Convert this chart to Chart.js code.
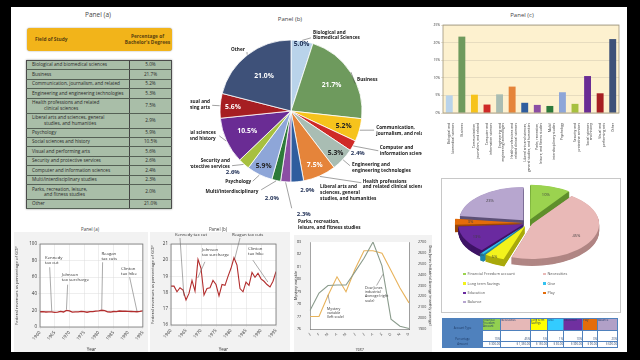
<!DOCTYPE html>
<html lang="en">
<head>
<meta charset="UTF-8">
<title>Bachelor's degrees and other charts</title>
<script src="https://cdn.jsdelivr.net/npm/chart.js@4"></script>
<style>
    body { margin: 0; width: 640px; height: 360px; background: #000; position: relative; overflow: hidden; font-family: "Open Sans", sans-serif; }
    #page { position: absolute; left: 11px; top: 7px; width: 616px; height: 345px; background: #fff; }
    canvas { position: absolute; }
    .title { position: absolute; color: #444; transform: translate(-50%, -50%); white-space: nowrap; line-height: 1; }
    #hdr { position: absolute; left: 27px; top: 28px; width: 145px; height: 23px; background: #f2b41a; border-radius: 3px; box-shadow: 0 0 1.5px rgba(0,0,0,.5); color: #5a4210; font-weight: 700; font-size: 4.8px; line-height: 5.6px; }
    #hdr .c1 { position: absolute; left: 8px; top: 9px; }
    #hdr .c2 { position: absolute; left: 96px; width: 49px; top: 6px; text-align: center; }
    #degTable { position: absolute; left: 26px; top: 60px; width: 146px; border-collapse: collapse; background: #a9bea8; border: 1px solid #4a4a4a; box-shadow: 0 0 2px rgba(0,0,0,.4); font-size: 4.7px; line-height: 5.4px; color: #2a2a2a; }
    #degTable td { border-bottom: 0.6px solid #556055; padding: 0; }
    #degTable td.f { width: 97px; padding-left: 5px; border-right: 0.8px solid #444; }
    #degTable td.v { text-align: center; }
    #degTable tr:last-child { height: 13px; }
    #degTable .ind { padding-left: 12px; }
    #jarBox { position: absolute; left: 441px; top: 178px; width: 178px; height: 133px; border: 0.5px solid #c8c8c8; }
    .leg { position: absolute; font-size: 3.8px; color: #555; line-height: 1; white-space: nowrap; }
    .leg i { display: inline-block; width: 2.5px; height: 2.5px; margin-right: 2px; }
    #jarTable { position: absolute; left: 442px; top: 318px; width: 175px; border-collapse: collapse; font-size: 2.8px; line-height: 3.1px; color: #1f3b66; table-layout: fixed; }
    #jarTable td { border: 0.5px solid #4f81bd; padding: 0; overflow: hidden; white-space: normal; }
    #jarTable td.k { background: #4f81bd; text-align: center; vertical-align: bottom; }
    #jarTable td.n { text-align: right; vertical-align: bottom; background: #fff; white-space: nowrap; }
</style>
</head>
<body>
<div id="page"></div>

<div class="title" style="left:98px;top:15px;font-size:6.5px">Panel (a)</div>
<div id="hdr"><span class="c1">Field of Study</span><span class="c2">Percentage of<br>Bachelor's Degrees</span></div>
<table id="degTable"><tbody></tbody></table>

<div class="title" style="left:290px;top:19px;font-size:6px">Panel (b)</div>
<canvas id="pieChart" width="232" height="227" style="left:190px;top:8px"></canvas>

<div class="title" style="left:522px;top:15px;font-size:6px">Panel (c)</div>
<canvas id="barChart" width="202" height="155" style="left:425px;top:20px"></canvas>

<div class="title" style="left:90px;top:229px;font-size:4.5px">Panel (a)</div>
<canvas id="revA" width="134" height="120" style="left:14px;top:232px;background:#f2f2f2"></canvas>
<div class="title" style="left:218px;top:229px;font-size:4.5px">Panel (b)</div>
<canvas id="revB" width="140" height="120" style="left:150px;top:232px;background:#f2f2f2"></canvas>

<canvas id="dowChart" width="138" height="117" style="left:294px;top:235px;background:#f2f2f2"></canvas>

<div id="jarBox"></div>
<canvas id="jarChart" width="175" height="92" style="left:443px;top:180px"></canvas>
<div id="jarLegend"></div>
<table id="jarTable"><colgroup></colgroup><tbody></tbody></table>

<script>
// ---------- data ----------
const tableFields = [
    ['Biological and biomedical sciences'],
    ['Business'],
    ['Communication, journalism, and related'],
    ['Engineering and engineering technologies'],
    ['Health professions and related', 'clinical sciences'],
    ['Liberal arts and sciences, general', 'studies, and humanities'],
    ['Psychology'],
    ['Social sciences and history'],
    ['Visual and performing arts'],
    ['Security and protective services'],
    ['Computer and information sciences'],
    ['Multi/interdisciplinary studies'],
    ['Parks, recreation, leisure,', 'and fitness studies'],
    ['Other']
];
const tablePct = [5.0, 21.7, 5.2, 5.3, 7.5, 2.9, 5.9, 10.5, 5.6, 2.6, 2.4, 2.3, 2.0, 21.0];

const pieFields = ['Biological and biomedical sciences', 'Business', 'Communication, journalism, and related',
    'Computer and information sciences', 'Engineering and engineering technologies',
    'Health professions and related clinical sciences', 'Liberal arts and sciences, general studies, and humanities',
    'Parks, recreation, leisure, and fitness studies', 'Multi/interdisciplinary studies', 'Psychology',
    'Security and protective services', 'Social sciences and history', 'Visual and performing arts', 'Other'];
const piePct = [5.0, 21.7, 5.2, 2.4, 5.3, 7.5, 2.9, 2.3, 2.0, 5.9, 2.6, 10.5, 5.6, 21.0];
const pieColors = ['#b9d3ea', '#6e9a5d', '#f6c31c', '#cf2a27', '#a9bdb3', '#e5843a', '#2f5d9e',
    '#8b4ea4', '#2d7a3a', '#8ea6d8', '#a7c03f', '#6a2c94', '#a61e22', '#3e5179'];
const pieNames = [
    ['Biological and', 'Biomedical Sciences'], ['Business'], ['Communication,', 'journalism, and related'],
    ['Computer and', 'information sciences'], ['Engineering and', 'engineering technologies'],
    ['Health professions', 'and related clinical sciences'], ['Liberal arts and', 'sciences, general', 'studies, and humanities'],
    ['Parks, recreation,', 'leisure, and fitness studies'], ['Multi/interdisciplinary'], ['Psychology'],
    ['Security and', 'protective services'], ['Social sciences', 'and history'], ['Visual and', 'performing arts'], ['Other']
];
const barLabels = [
    ['Biological and', 'biomedical sciences'], 'Business', ['Communication,', 'journalism, and related'],
    ['Computer and', 'information sciences'], ['Engineering and', 'engineering technologies'],
    ['Health professions and', 'related clinical sciences'], ['Liberal arts and sciences,', 'general studies, and humanities'],
    ['Parks, recreation,', 'leisure, and fitness studies'], ['Multi/', 'interdisciplinary studies'], 'Psychology',
    ['Security and', 'protective services'], ['Social sciences', 'and history'], ['Visual and', 'performing arts'], 'Other'
];

const years = [1960, 1961, 1962, 1963, 1964, 1965, 1966, 1967, 1968, 1969, 1970, 1971, 1972, 1973, 1974, 1975, 1976, 1977,
    1978, 1979, 1980, 1981, 1982, 1983, 1984, 1985, 1986, 1987, 1988, 1989, 1990, 1991, 1992, 1993, 1994, 1995];
const revenue = [18.4, 18.4, 18.05, 18.3, 18.15, 17.55, 17.95, 18.75, 18.1, 20.05, 19.5, 17.85, 18.25, 18.3, 18.75, 18.5,
    17.8, 18.5, 18.45, 19.0, 19.5, 20.15, 19.7, 18.25, 18.05, 18.65, 18.45, 19.25, 18.95, 19.2, 18.85, 18.7, 18.5, 18.35, 18.7, 19.3];

const months = ['J', 'F', 'M', 'A', 'M', 'J', 'J', 'A', 'S', 'O', 'N', 'D'];
const mystery = [77.0, 77.0, 78.7, 80.2, 79.0, 80.8, 82.3, 82.3, 82.1, 80.7, 79.3, 78.1];
const dowJones = [2070, 2230, 2300, 2305, 2305, 2425, 2550, 2700, 2480, 1990, 1925, 1905];

const jarAccounts = ['Financial Freedom account', 'Necessities', 'Long term Savings', 'Give', 'Education', 'Play', 'Balance'];
const jarHeads = ['Financial Freedom Account', 'Necessities', 'Long term Savings', 'Give', 'Education', 'Play', 'Balance'];
const jarPct = [10, 45, 5, 1, 13, 3, 23];
const jarAmount = ['300.00', '1,350.00', '150.00', '30.00', '390.00', '90.00', '690.00'];
const jarColors = ['#9bd34f', '#e9b9b7', '#f2f21c', '#33c2f0', '#6a2aa0', '#e46c0a', '#b7a6cf'];
const jarSides = ['#5f8f2c', '#b08684', '#a9a90c', '#1f86aa', '#3f1466', '#9c4706', '#5d5077'];
const jarHeadColors = ['#92d050', '#e6b8b7', '#ffff00', '#33ccff', '#7030a0', '#e46c0a', '#b1a0c7'];

// ---------- html tables ----------
const degBody = document.querySelector('#degTable tbody');
tableFields.forEach((f, i) => {
    const tr = document.createElement('tr');
    if (f.length > 1) tr.style.height = '15px'; else tr.style.height = '9.4px';
    const td1 = document.createElement('td');
    td1.className = 'f';
    td1.innerHTML = f[0] + (f[1] ? '<br><span class="ind">' + f[1] + '</span>' : '');
    const td2 = document.createElement('td');
    td2.className = 'v';
    td2.textContent = tablePct[i].toFixed(1) + '%';
    tr.appendChild(td1); tr.appendChild(td2);
    degBody.appendChild(tr);
});

const colWidths = [40, 18, 30, 17, 16, 19, 15, 20];
const cg = document.querySelector('#jarTable colgroup');
colWidths.forEach(w => {
    const c = document.createElement('col');
    c.style.width = w + 'px';
    cg.appendChild(c);
});
const jarBody = document.querySelector('#jarTable tbody');
function jarRow(first, cells, h, head) {
    const tr = document.createElement('tr');
    tr.style.height = h + 'px';
    const k = document.createElement('td');
    k.className = 'k'; k.textContent = first;
    tr.appendChild(k);
    cells.forEach((c, i) => {
        const td = document.createElement('td');
        if (head) { td.style.background = jarHeadColors[i]; td.style.verticalAlign = 'top'; td.style.textAlign = 'left'; }
        else td.className = 'n';
        td.textContent = c;
        tr.appendChild(td);
    });
    jarBody.appendChild(tr);
}
jarRow('Account Type', jarHeads, 12, true);
jarRow('Percentage', jarPct.map(v => v + '%'), 11, false);
jarRow('Amount', jarAmount.map(v => '$ ' + v), 5.5, false);

const legPos = [[468, 274], [548, 274], [468, 283.5], [548, 283.5], [468, 293], [548, 293], [468, 302]];
const legDiv = document.getElementById('jarLegend');
jarAccounts.forEach((a, i) => {
    const d = document.createElement('div');
    d.className = 'leg';
    d.style.left = (legPos[i][0] - 5) + 'px';
    d.style.top = (legPos[i][1] - 2) + 'px';
    d.innerHTML = '<i style="background:' + jarColors[i] + '"></i>' + a;
    legDiv.appendChild(d);
});

// ---------- chart.js setup ----------
Chart.defaults.font.family = '"Open Sans", sans-serif';
Chart.defaults.color = '#333';
Chart.defaults.animation = false;
Chart.defaults.responsive = false;
Chart.defaults.devicePixelRatio = 1;
Chart.defaults.plugins.legend.display = false;
Chart.defaults.plugins.tooltip.enabled = false;

// white / cream plot area and its frame
const areaBg = {
    id: 'areaBg',
    beforeDraw(chart, args, o) {
        if (!o.color) return;
        const a = chart.chartArea, ctx = chart.ctx;
        ctx.save();
        ctx.fillStyle = o.color;
        ctx.fillRect(a.left, a.top, a.width, a.height);
        ctx.restore();
    },
    afterDraw(chart, args, o) {
        if (!o.frame) return;
        const a = chart.chartArea, ctx = chart.ctx;
        ctx.save();
        ctx.strokeStyle = o.frame;
        ctx.lineWidth = 0.8;
        ctx.strokeRect(a.left, a.top, a.width, a.height);
        ctx.restore();
    }
};

// text notes with leader lines, placed in data units
const notes = {
    id: 'notes',
    afterDatasetsDraw(chart, args, o) {
        if (!o.items) return;
        const ctx = chart.ctx, xs = chart.scales.x, ys = chart.scales[o.axis || 'y'];
        ctx.save();
        ctx.font = o.size + 'px "Open Sans"';
        ctx.fillStyle = '#333';
        ctx.strokeStyle = '#555';
        ctx.lineWidth = 0.5;
        ctx.textAlign = 'left';
        ctx.textBaseline = 'middle';
        o.items.forEach(n => {
            const tx = xs.getPixelForValue(n.at[0]), ty = ys.getPixelForValue(n.at[1]);
            n.text.forEach((t, k) => ctx.fillText(t, tx, ty + k * o.lh));
            ctx.beginPath();
            ctx.moveTo(xs.getPixelForValue(n.from[0]), ys.getPixelForValue(n.from[1]));
            ctx.lineTo(xs.getPixelForValue(n.to[0]), ys.getPixelForValue(n.to[1]));
            ctx.stroke();
        });
        ctx.restore();
    }
};

// labels around the big pie (offsets in units of the radius)
const pieLayout = [
    {pr: .95, pc: '#1f2f55', n: [.31, -1.11], al: 'left', ld: [.28, -1.03]},
    {pr: .68, pc: '#fff', n: [.93, -.44], al: 'left', ld: [.90, -.39]},
    {pr: .77, pc: '#222', n: [1.20, .24], al: 'left', ld: [1.17, .27]},
    {pp: [.94, .59], pc: '#1f2f55', n: [1.25, .52], al: 'left', ld: [1.23, .56]},
    {pr: .86, pc: '#222', n: [.86, .76], al: 'left', ld: [.83, .77]},
    {pr: .83, pc: '#fff', n: [1.01, .99], al: 'left', ld: [.99, 1.01]},
    {pp: [.23, 1.11], pc: '#1f2f55', n: [.41, 1.07], al: 'left'},
    {pp: [.18, 1.45], pc: '#1f2f55', n: [.10, 1.56], al: 'left', ld: [.01, 1.37]},
    {pp: [-.27, 1.23], pc: '#1f2f55', n: [-.46, 1.13], al: 'right', ld: [-.42, 1.11]},
    {pr: .87, pc: '#222', n: [-.56, .99], al: 'right', ld: [-.54, .99]},
    {pp: [-.82, .86], pc: '#1f2f55', n: [-.86, .70], al: 'right', ld: [-.83, .77]},
    {pr: .68, pc: '#fff', n: [-1.06, .31], al: 'right', ld: [-1.01, .35]},
    {pr: .82, pc: '#fff', n: [-1.14, -.13], al: 'right', ld: [-1.11, -.08]},
    {pr: .62, pc: '#fff', n: [-.65, -.86], al: 'right', ld: [-.62, -.83]}
];
const pieLabels = {
    id: 'pieLabels',
    afterDatasetsDraw(chart, args, o) {
        if (!o.on) return;
        const ctx = chart.ctx;
        chart.getDatasetMeta(0).data.forEach((arc, i) => {
            const L = pieLayout[i];
            const {x, y, startAngle, endAngle, outerRadius: r} = arc;
            const mid = (startAngle + endAngle) / 2;
            ctx.save();
            // leader
            if (L.ld) {
                ctx.strokeStyle = '#444';
                ctx.lineWidth = 0.5;
                ctx.beginPath();
                ctx.moveTo(x + Math.cos(mid) * (r + 0.5), y + Math.sin(mid) * (r + 0.5));
                ctx.lineTo(x + L.ld[0] * r, y + L.ld[1] * r);
                ctx.stroke();
            }
            // percentage
            let px, py;
            if (L.pp) { px = x + L.pp[0] * r; py = y + L.pp[1] * r; }
            else { px = x + Math.cos(mid) * L.pr * r; py = y + Math.sin(mid) * L.pr * r; }
            ctx.font = 'bold ' + (L.pp ? 6 : 6.8) + 'px "Open Sans"';
            ctx.fillStyle = L.pc;
            ctx.textAlign = 'center';
            ctx.textBaseline = 'middle';
            ctx.fillText(piePct[i].toFixed(1) + '%', px, py);
            // category name
            ctx.font = 'bold 4.7px "Open Sans"';
            ctx.fillStyle = '#1a1a1a';
            ctx.textAlign = L.al;
            pieNames[i].forEach((t, k) => ctx.fillText(t, x + L.n[0] * r, y + L.n[1] * r + k * 5.8));
            ctx.restore();
        });
    }
};

// tilted, extruded pie
const pie3d = {
    id: 'pie3d',
    beforeDatasetsDraw(chart, args, o) {
        if (!o.tilt) return;
        const ctx = chart.ctx, arcs = chart.getDatasetMeta(0).data;
        const cx = arcs[0].x, cy = arcs[0].y;
        ctx.save();
        ctx.translate(cx, cy);
        ctx.scale(1, o.tilt);
        ctx.translate(-cx, -cy);
        for (let d = o.depth; d > 0; d -= 0.5) {
            arcs.forEach((a, i) => {
                const t = (a.options.offset || 0) / 4;
                const mid = (a.startAngle + a.endAngle) / 2;
                const R = a.outerRadius + t * (1 - Math.sin(Math.min(Math.PI, a.endAngle - a.startAngle)));
                const ax = a.x + Math.cos(mid) * t, ay = a.y + Math.sin(mid) * t + d / o.tilt;
                ctx.beginPath();
                ctx.moveTo(ax, ay);
                ctx.arc(ax, ay, R, a.startAngle, a.endAngle);
                ctx.closePath();
                ctx.fillStyle = jarSides[i];
                ctx.fill();
            });
        }
    },
    afterDatasetsDraw(chart, args, o) {
        if (!o.tilt) return;
        const ctx = chart.ctx, arcs = chart.getDatasetMeta(0).data;
        ctx.restore();
        ctx.save();
        ctx.font = '4px "Open Sans"';
        ctx.fillStyle = '#404040';
        ctx.textAlign = 'center';
        ctx.textBaseline = 'middle';
        arcs.forEach((a, i) => {
            const mid = (a.startAngle + a.endAngle) / 2;
            const k = o.lr[i] * a.outerRadius;
            const px = a.x + Math.cos(mid) * k;
            const py = a.y + Math.sin(mid) * k * o.tilt;
            ctx.fillText(jarPct[i] + '%', px, py);
        });
        ctx.restore();
    }
};

Chart.register(areaBg, notes, pieLabels, pie3d);

// ---------- Panel (b): pie ----------
new Chart(document.getElementById('pieChart'), {
    type: 'pie',
    data: {
        labels: pieFields,
        datasets: [{data: piePct, backgroundColor: pieColors, borderColor: '#fff', borderWidth: 0.8}]
    },
    options: {
        radius: 71,
        layout: {padding: {left: 0, right: 30, top: 0, bottom: 21}},
        plugins: {pieLabels: {on: true}}
    }
});

// ---------- Panel (c): bars ----------
new Chart(document.getElementById('barChart'), {
    type: 'bar',
    data: {
        labels: barLabels,
        datasets: [{data: piePct, backgroundColor: pieColors, barPercentage: 0.55, categoryPercentage: 1}]
    },
    options: {
        layout: {padding: {left: 0, right: 8, top: 5, bottom: 0}},
        scales: {
            x: {
                grid: {display: false},
                border: {display: false},
                ticks: {font: {size: 3.3}, color: '#333', autoSkip: false, minRotation: 90, maxRotation: 90, padding: 2},
                afterFit(s) { s.height = 62; }
            },
            y: {
                min: 0, max: 25,
                grid: {color: '#d9cfb3', lineWidth: 0.6, tickLength: 2},
                border: {display: false},
                ticks: {stepSize: 5, font: {size: 3.3}, color: '#333', callback: v => v + '%', padding: 1},
                afterFit(s) { s.width = 18; }
            }
        },
        plugins: {areaBg: {color: '#fdf1cf', frame: '#9d947c'}}
    }
});

// ---------- bottom left: federal revenues ----------
const revPoints = years.map((y, i) => ({x: y, y: revenue[i]}));
function revChart(id, yMin, yMax, yStep, yW, xH, padR, lw, items) {
    return new Chart(document.getElementById(id), {
        type: 'line',
        data: {datasets: [{data: revPoints, borderColor: '#b22d2d', borderWidth: lw, pointRadius: 0, tension: 0}]},
        options: {
            layout: {padding: {left: 0, right: padR, top: 12, bottom: 0}},
            scales: {
                x: {
                    type: 'linear', min: 1960, max: 1995,
                    grid: {color: '#dcdcdc', lineWidth: 0.5, tickLength: 2},
                    border: {display: false},
                    ticks: {stepSize: 5, font: {size: 4.5}, color: '#333', padding: 1, callback: v => String(v)},
                    title: {display: true, text: 'Year', font: {size: 4.5}, color: '#333', padding: {top: 2, bottom: 0}},
                    afterFit(s) { s.height = xH; }
                },
                y: {
                    min: yMin, max: yMax,
                    grid: {color: '#dcdcdc', lineWidth: 0.5, tickLength: 2},
                    border: {display: false},
                    ticks: {stepSize: yStep, font: {size: 4.5}, color: '#333', padding: 1},
                    title: {display: true, text: 'Federal revenues as percentage of GDP', font: {size: 4.3}, color: '#333', padding: 0},
                    afterFit(s) { s.width = yW; }
                }
            },
            plugins: {
                areaBg: {color: '#fff', frame: '#777'},
                notes: {items: items, size: 4.3, lh: 5}
            }
        }
    });
}
revChart('revA', 0, 100, 20, 26, 25, 4, 1.3, [
    {text: ['Kennedy', 'tax cut'], at: [1961.7, 83], from: [1963.3, 72], to: [1964, 19]},
    {text: ['Johnson', 'tax surcharge'], at: [1967.4, 62.6], from: [1969.4, 51], to: [1969, 21]},
    {text: ['Reagan', 'tax cuts'], at: [1980.9, 88], from: [1981.3, 78], to: [1981, 21]},
    {text: ['Clinton', 'tax hike'], at: [1987.6, 70], from: [1990.5, 60], to: [1993, 19]}
]);
revChart('revB', 16, 21, 1, 21, 27, 14, 1.1, [
    {text: ['Kennedy tax cut'], at: [1961.3, 21.55], from: [1963, 21.37], to: [1964.3, 17.8]},
    {text: ['Reagan tax cuts'], at: [1980.3, 21.55], from: [1983, 21.37], to: [1981.2, 20.05]},
    {text: ['Johnson', 'tax surcharge'], at: [1970.3, 20.63], from: [1971.3, 19.9], to: [1968.9, 18.9]},
    {text: ['Clinton', 'tax hike'], at: [1985.7, 20.7], from: [1987.3, 20.0], to: [1992.3, 18.65]}
]);

// ---------- bottom middle: mystery variable vs Dow Jones ----------
new Chart(document.getElementById('dowChart'), {
    type: 'line',
    data: {
        labels: months,
        datasets: [
            {data: dowJones, yAxisID: 'y2', borderColor: '#8a9b8c', borderWidth: 1.1, pointRadius: 0, tension: 0},
            {data: mystery, yAxisID: 'y', borderColor: '#e8b35c', borderWidth: 1.1, pointRadius: 0, tension: 0}
        ]
    },
    options: {
        layout: {padding: {left: 0, right: 0, top: 7, bottom: 0}},
        scales: {
            x: {
                offset: false,
                grid: {display: false, tickLength: 2},
                border: {color: '#666', width: 0.6},
                ticks: {font: {size: 3.6}, color: '#333', padding: 1},
                title: {display: true, text: '1987', font: {size: 3.8}, color: '#333', padding: {top: 2, bottom: 0}},
                afterFit(s) { s.height = 23; }
            },
            y: {
                position: 'left', min: 76, max: 83,
                grid: {display: false},
                border: {color: '#666', width: 0.6},
                ticks: {stepSize: 1, font: {size: 3.6}, color: '#333', padding: 1},
                title: {display: true, text: 'Mystery variable', font: {size: 3.8}, color: '#333', padding: 0},
                afterFit(s) { s.width = 16; }
            },
            y2: {
                position: 'right', min: 1900, max: 2700,
                grid: {display: false},
                border: {color: '#666', width: 0.6},
                ticks: {stepSize: 100, font: {size: 3.6}, color: '#333', padding: 1, callback: v => String(v)},
                title: {display: true, text: 'Dow Jones Industrial Average (monthly average)', font: {size: 3.6}, color: '#333', padding: 0},
                afterFit(s) { s.width = 23; }
            }
        },
        plugins: {
            areaBg: {color: '#fff'},
            notes: {size: 3.6, lh: 4.2, items: [
                {text: ['Mystery', 'variable', '(left scale)'], at: [1.9, 77.65], from: [2.2, 78.05], to: [2.0, 78.75]},
                {text: ['Dow Jones', 'industrial', 'Average (right', 'scale)'], at: [6.1, 79.3], from: [7.4, 79.5], to: [8.1, 80.4]}
            ]}
        }
    }
});

// ---------- bottom right: jar accounts ----------
new Chart(document.getElementById('jarChart'), {
    type: 'pie',
    data: {
        labels: jarAccounts,
        datasets: [{
            data: jarPct, backgroundColor: jarColors, borderWidth: 0, clip: false,
            offset: [28, 18, 24, 24, 20, 20, 28]
        }]
    },
    options: {
        radius: 64,
        layout: {padding: {left: 0, right: 5, top: 0, bottom: 6}},
        plugins: {pie3d: {tilt: 0.52, depth: 7, lr: [0.9, 0.85, 1.15, 1.2, 0.9, 0.9, 0.9]}}
    }
});
</script>
</body>
</html>
